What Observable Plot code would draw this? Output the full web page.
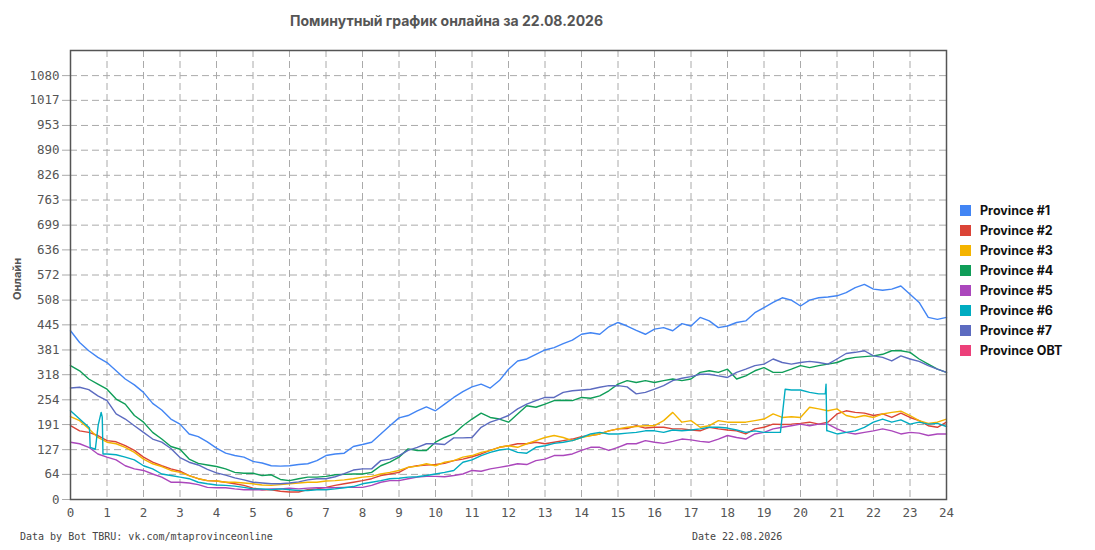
<!DOCTYPE html>
<html>
<head>
<meta charset="utf-8">
<script src="https://cdn.jsdelivr.net/npm/d3@7"></script>
<script src="https://cdn.jsdelivr.net/npm/@observablehq/plot@0.6"></script>
<style>
  html, body { margin: 0; padding: 0; background: #fff; }
  #wrap { position: relative; width: 1095px; height: 550px; overflow: hidden; }
  #chart { position: absolute; left: 0; top: 0; }
  #title { position: absolute; left: 290px; top: 12px; font: bold 14px Inter, "Noto Sans", sans-serif; color: #555; white-space: nowrap; }
  #ylabel { position: absolute; left: 17px; top: 279px; transform: translate(-50%, -50%) rotate(-90deg); font: bold 11px Inter, "Noto Sans", sans-serif; color: #555; white-space: nowrap; }
  #legend { position: absolute; left: 960px; top: 203px; font: bold 12.5px Inter, "Noto Sans", sans-serif; color: #111; }
  .li { height: 20px; display: flex; align-items: flex-start; white-space: nowrap; }
  .sw { width: 11px; height: 11px; margin-top: 2px; margin-right: 9px; flex: none; }
  .foot { position: absolute; top: 531px; font: 10px "DejaVu Sans Mono", monospace; color: #444; white-space: nowrap; }
</style>
</head>
<body>
<div id="wrap">
  <div id="chart"></div>
  <div id="title">Поминутный график онлайна за 22.08.2026</div>
  <div id="ylabel">Онлайн</div>
  <div id="legend"></div>
  <div class="foot" style="left:20px">Data by Bot TBRU: vk.com/mtaprovinceonline</div>
  <div class="foot" style="left:692px">Date 22.08.2026</div>
</div>
<script>
// Sampling grid: every 15 minutes, hours 0..24
const hours = d3.range(0, 24.001, 0.25);
const xTicks = [0,1,2,3,4,5,6,7,8,9,10,11,12,13,14,15,16,17,18,19,20,21,22,23,24];
const yTicks = [0,64,127,191,254,318,381,445,508,572,636,699,763,826,890,953,1017,1080];
const yMax = 1144;

const seriesNames = ["Province #1","Province #2","Province #3","Province #4","Province #5","Province #6","Province #7","Province OBT"];
const seriesColors = ["#4285F4","#DB4437","#F4B400","#0F9D58","#AB47BC","#00ACC1","#5C6BC0","#EC407A"];

const p1 = [430,400,379,362, 349,328,307,292, 273,245,228,205, 192,167,160,147, 131,118,112,108,
  97,93,86,85, 86,89,91,99, 112,116,118,135, 140,146,167,188, 208,214,226,236, 226,243,260,275,
  287,294,284,303, 332,353,358,370, 381,387,397,406, 421,425,421,440, 451,442,431,421,
  434,438,430,448, 442,464,455,438, 442,451,455,476, 489,502,514,508, 493,508,514,516,
  519,527,540,548, 536,533,536,544, 523,502,464,459, 464];
const p2 = [188,175,171,163, 150,147,137,125, 108,95,86,78, 72,61,53,48, 47,44,40,36,
  29,25,25,21, 19,19,25,27, 31,36,40,44, 48,53,61,65, 69,82,86,88, 89,92,99,103,
  109,116,125,133, 137,142,142,146, 142,146,150,154, 160,163,167,175, 180,181,188,182,
  184,184,180,180, 177,175,184,180, 177,175,167,180, 184,192,191,192, 194,197,192,197,
  218,226,222,220, 214,218,209,220, 209,201,188,184, 197];
const p3 = [211,201,180,158, 146,142,133,120, 103,91,84,74, 69,61,53,48, 47,44,44,42,
  40,37,36,38, 40,42,44,44, 47,48,50,53, 57,59,65,69, 74,82,85,91, 86,95,99,108,
  112,120,125,133, 137,133,142,150, 158,163,158,150, 158,163,167,175, 180,184,186,188,
  188,201,222,197, 201,184,188,201, 197,197,197,201, 205,218,209,211, 209,235,231,226,
  231,214,209,214, 209,218,222,225, 214,201,194,197, 205];
const p4 = [341,328,307,294, 281,256,243,214, 197,171,154,135, 128,103,92,88, 84,78,69,67,
  67,61,63,51, 48,53,57,57, 59,63,64,65, 65,69,86,95, 108,129,125,125, 146,158,167,188,
  205,220,209,205, 197,218,239,235, 243,252,253,252, 260,258,264,277, 294,303,298,303,
  298,303,307,303, 307,324,328,324, 332,307,315,328, 336,324,324,332, 341,336,341,345,
  349,358,362,364, 366,370,379,379, 375,358,345,332, 324];
const p5 = [146,142,133,116, 108,101,86,78, 74,65,57,44, 44,42,38,31, 30,30,27,25,
  25,25,27,27, 29,27,29,30, 30,30,31,31, 31,36,44,48, 48,53,57,59, 59,58,61,65,
  74,72,78,82, 86,91,89,99, 103,112,112,116, 125,133,133,125, 133,142,142,150,
  146,143,148,154, 152,148,146,154, 163,158,154,167, 171,180,184,188, 192,188,192,192,
  180,171,167,171, 175,180,175,167, 171,169,163,167, 167];
// Province #6 has short spikes, so it keeps its own time stamps
const p6Hours = [0,0.25,0.5,0.52,0.54,0.68,0.76,0.84,0.87,0.89,1,1.25,1.5,1.75,
  2,2.25,2.5,2.75,3,3.25,3.5,3.75,4,4.25,4.5,4.75,5,5.25,5.5,5.75,6,6.25,6.5,6.75,7,7.25,7.5,7.75,
  8,8.25,8.5,8.75,9,9.25,9.5,9.75,10,10.25,10.5,10.75,11,11.25,11.5,11.75,12,12.25,12.5,12.75,
  13,13.25,13.5,13.75,14,14.25,14.5,14.75,15,15.25,15.5,15.75,16,16.25,16.5,16.75,17,17.25,17.5,17.75,
  18,18.25,18.5,18.75,19,19.25,19.45,19.58,19.75,20,20.25,20.5,20.68,20.7,20.72,20.75,
  21,21.25,21.5,21.75,22,22.25,22.5,22.75,23,23.25,23.5,23.75,24];
const p6 = [226,205,184,182,133,128,190,222,210,116,116,114,108,101,
  86,78,65,61,57,53,44,40,37,36,34,31,27,27,25,27,25,23,23,25,25,27,30,33,
  40,44,48,53,54,57,58,61,65,69,74,95,101,112,120,126,129,120,118,133,
  137,143,146,150,158,167,171,167,167,169,171,175,175,171,177,175,177,180,184,184,
  182,177,171,175,171,171,171,281,279,279,273,269,269,294,175,175,
  167,171,175,184,197,205,197,203,192,197,192,194,186];
const p7 = [284,286,280,264, 252,218,205,188, 171,154,146,130, 107,95,88,77, 68,62,55,50,
  44,42,40,40, 42,45,50,53, 53,58,66,75, 78,78,99,103, 112,125,133,142, 142,140,157,157,
  158,184,197,205, 214,231,243,252, 260,260,273,277, 279,281,286,290, 290,287,269,273,
  281,290,303,309, 313,319,319,315, 311,324,332,341, 345,358,349,345, 349,352,349,345,
  358,372,375,379, 366,362,353,366, 358,352,341,332, 324];
const pOBT = [];

const seriesX = [hours, hours, hours, hours, hours, p6Hours, hours, hours];
const seriesY = [p1, p2, p3, p4, p5, p6, p7, pOBT];

const rows = [];
seriesY.forEach((vals, s) => vals.forEach((v, i) => rows.push({series: seriesNames[s], h: seriesX[s][i], v})));

const chart = Plot.plot({
  width: 960,
  height: 550,
  marginLeft: 70,
  marginRight: 14,
  marginTop: 50,
  marginBottom: 51,
  style: { fontFamily: "'DejaVu Sans Mono', monospace", fontSize: "12.5px", color: "#555", background: "transparent" },
  x: { domain: [0, 24] },
  y: { domain: [0, yMax] },
  color: { domain: seriesNames, range: seriesColors },
  marks: [
    Plot.gridX(xTicks, { stroke: "#aaa", strokeOpacity: 1, strokeDasharray: "7,4" }),
    Plot.gridY(yTicks, { stroke: "#aaa", strokeOpacity: 1, strokeDasharray: "7,4" }),
    Plot.axisX(xTicks, { tickSize: 0, tickPadding: 9, tickFormat: d => String(d), label: null, fill: "#555" }),
    Plot.axisY(yTicks, { tickSize: 8, tickPadding: 3, tickFormat: d => String(d), label: null, stroke: "#aaa", fill: "#555" }),
    Plot.line(rows, { x: "h", y: "v", z: "series", stroke: "series", strokeWidth: 1.4 }),
    Plot.frame({ stroke: "#555", strokeWidth: 1.5 })
  ]
});
document.getElementById("chart").appendChild(chart);

const legend = document.getElementById("legend");
seriesNames.forEach((n, i) => {
  const row = document.createElement("div");
  row.className = "li";
  const sw = document.createElement("span");
  sw.className = "sw";
  sw.style.background = seriesColors[i];
  const t = document.createElement("span");
  t.textContent = n;
  row.appendChild(sw);
  row.appendChild(t);
  legend.appendChild(row);
});
</script>
</body>
</html>
